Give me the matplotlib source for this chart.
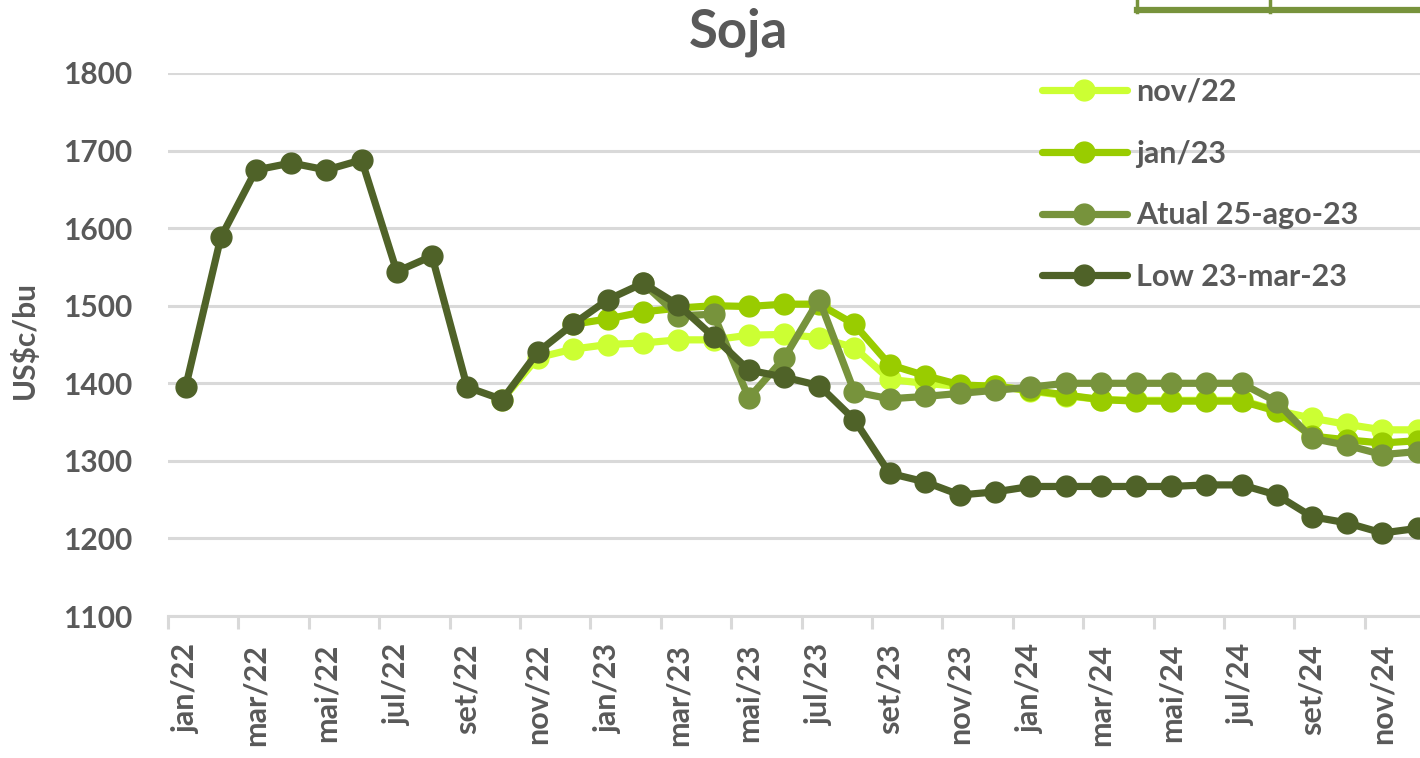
import matplotlib
matplotlib.use("Agg")
import matplotlib.pyplot as plt
from matplotlib.lines import Line2D
import numpy as np

# monthly categories jan/22 .. dez/24
MESES = ["jan", "fev", "mar", "abr", "mai", "jun", "jul", "ago", "set", "out", "nov", "dez"]
months = [f"{m}/{y}" for y in ("22", "23", "24") for m in MESES]

# Low 23-mar-23 (full history + curve)
low = [1395, 1588, 1675, 1684, 1675, 1688, 1544, 1564, 1395, 1379, 1440, 1476,
       1508, 1529, 1501, 1460, 1417, 1408, 1397, 1353, 1284, 1273, 1256, 1260,
       1267, 1267, 1267, 1267, 1267, 1269, 1269, 1256, 1228, 1220, 1207, 1213]

# nov/22 curve, starting at out/22
nov22_start = 9
nov22 = [1379, 1433, 1444, 1450, 1452, 1456, 1456, 1462, 1463, 1459, 1446, 1405,
         1400, 1396, 1397, 1390, 1384, 1379, 1378, 1378, 1378, 1378, 1365, 1355,
         1347, 1340, 1340]

# jan/23 curve, starting at dez/22
jan23_start = 11
jan23 = [1476, 1483, 1492, 1497, 1500, 1499, 1502, 1502, 1476, 1424, 1410, 1398,
         1396, 1391, 1385, 1379, 1377, 1377, 1377, 1377, 1364, 1332, 1327, 1323,
         1326]

# Atual 25-ago-23 curve, starting at fev/23
atual_start = 13
atual = [1529, 1487, 1489, 1381, 1432, 1508, 1389, 1380, 1383, 1387, 1391, 1395,
         1400, 1400, 1400, 1400, 1400, 1400, 1376, 1329, 1320, 1308, 1312]

series = [
    ("nov/22", nov22_start, nov22, "#CCFF33"),
    ("jan/23", jan23_start, jan23, "#99CC00"),
    ("Atual 25-ago-23", atual_start, atual, "#77933C"),
    ("Low 23-mar-23", 0, low, "#4F6228"),
]

TXT = "#595959"
GRID = "#D9D9D9"
FS = 22
plt.rcParams["font.family"] = ["Lato", "DejaVu Sans"]
plt.rcParams["font.weight"] = "bold"

fig = plt.figure(figsize=(14.2, 7.58), dpi=100)
ax = fig.add_axes([168 / 1420, 1 - 616 / 758, 1 - 168 / 1420, (616 - 73) / 758])

x = np.arange(len(months))
for label, start, vals, color in series:
    y = np.full(len(months), np.nan)
    y[start:start + len(vals)] = vals
    ax.plot(x, y, "-o", color=color, lw=5.2, ms=15, label=label,
            solid_joinstyle="round", solid_capstyle="round")

ax.set_yticks(range(1100, 1801, 100))
ax.grid(axis="y", color=GRID, lw=2.2)
ax.set_axisbelow(True)
for s in ("top", "right", "left"):
    ax.spines[s].set_visible(False)
ax.spines["bottom"].set_color(GRID)
ax.spines["bottom"].set_linewidth(2.2)

ax.set_xticks(x[::2])
ax.set_xticklabels(months[::2], rotation=90)
ax.set_xticks(np.arange(-0.5, len(months), 2), minor=True)
ax.tick_params(axis="x", which="major", length=0, pad=20, labelsize=FS, labelcolor=TXT)
ax.tick_params(axis="x", which="minor", length=9, width=2.2, color=GRID)
ax.tick_params(axis="y", length=0, pad=26, labelsize=21.5, labelcolor=TXT)
# limits last: setting ticks can widen the view
ax.set_ylim(1100, 1800)
ax.set_xlim(-0.5, 35.07)

fig.text(24 / 1420, 1 - 340 / 758, "US$c/bu", rotation=90, ha="center", va="center",
         fontsize=21.5, color=TXT, fontweight="bold")
fig.text(738 / 1420, 1 - 32 / 758, "Soja", ha="center", va="center",
         fontsize=38, color=TXT, fontweight="bold")

leg = ax.legend(loc="upper left", bbox_to_anchor=(1042 / 1420, 1 - 78 / 758),
                bbox_transform=fig.transFigure, frameon=False, fontsize=FS,
                handlelength=2.78, handletextpad=0.3, labelspacing=1.1,
                borderpad=0, borderaxespad=0)
for t in leg.get_texts():
    t.set_color(TXT)

# fragment of a table cut off at the top right
olive = "#77933C"
fig.add_artist(Line2D([1137 / 1420, 1420 / 1420], [1 - 10 / 758] * 2, color=olive, lw=4.5))
fig.add_artist(Line2D([1137 / 1420] * 2, [1, 1 - 12 / 758], color=olive, lw=2.5))
fig.add_artist(Line2D([1270 / 1420] * 2, [1, 1 - 12 / 758], color=olive, lw=2.5))

fig.savefig("out.png", dpi=100)
